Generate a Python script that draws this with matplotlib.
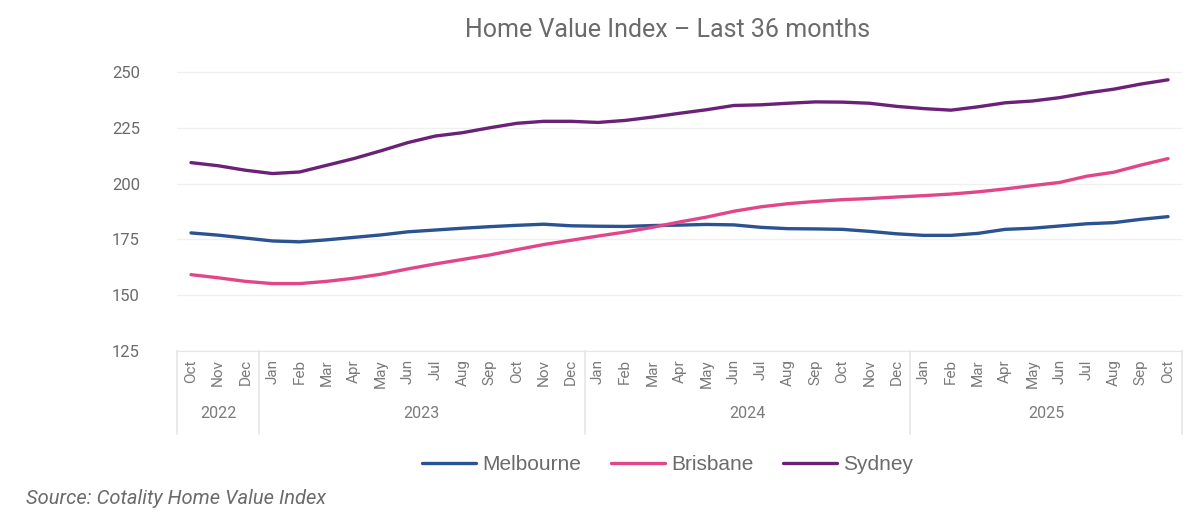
import matplotlib
matplotlib.use('Agg')
import matplotlib.pyplot as plt
import matplotlib.transforms as mtransforms

months = ['Oct', 'Nov', 'Dec',
          'Jan', 'Feb', 'Mar', 'Apr', 'May', 'Jun', 'Jul', 'Aug', 'Sep', 'Oct', 'Nov', 'Dec',
          'Jan', 'Feb', 'Mar', 'Apr', 'May', 'Jun', 'Jul', 'Aug', 'Sep', 'Oct', 'Nov', 'Dec',
          'Jan', 'Feb', 'Mar', 'Apr', 'May', 'Jun', 'Jul', 'Aug', 'Sep', 'Oct']
years = ['2022', '2023', '2024', '2025']
year_counts = [3, 12, 12, 10]

melbourne = [177.9, 176.9, 175.6, 174.3, 173.9, 174.8, 175.9, 177.0, 178.4, 179.2, 180.0, 180.7,
             181.3, 181.8, 181.1, 180.9, 180.8, 181.2, 181.4, 181.7, 181.5, 180.4, 179.8, 179.7,
             179.5, 178.6, 177.5, 176.8, 176.8, 177.7, 179.5, 180.0, 181.0, 182.0, 182.5, 184.0, 185.2]
brisbane = [159.2, 157.8, 156.2, 155.2, 155.2, 156.2, 157.6, 159.4, 161.8, 164.0, 166.0, 168.0,
            170.4, 172.7, 174.6, 176.5, 178.3, 180.4, 182.8, 185.0, 187.6, 189.6, 191.0, 192.0,
            192.8, 193.3, 194.0, 194.6, 195.3, 196.3, 197.6, 199.1, 200.5, 203.3, 205.1, 208.3, 211.2]
sydney = [209.4, 208.0, 206.0, 204.5, 205.2, 208.2, 211.2, 214.7, 218.4, 221.3, 222.8, 225.0,
          227.0, 227.9, 227.9, 227.4, 228.3, 229.8, 231.5, 233.1, 235.0, 235.3, 236.0, 236.6,
          236.5, 236.0, 234.6, 233.6, 232.9, 234.4, 236.2, 237.0, 238.5, 240.6, 242.3, 244.6, 246.5]

grey = '#6b6b6b'
light = '#e6e6e6'

fig = plt.figure(figsize=(11.86, 5.29), dpi=100)
ax = fig.add_axes([0.1496, 0.3365, 0.8467, 0.5485])

x = range(len(months))
ax.plot(x, melbourne, color='#2b5291', lw=2.4, label='Melbourne', solid_capstyle='round')
ax.plot(x, brisbane, color='#e2468a', lw=2.4, label='Brisbane', solid_capstyle='round')
ax.plot(x, sydney, color='#6b2178', lw=2.4, label='Sydney', solid_capstyle='round')

ax.set_xlim(-0.5, len(months) - 0.5)
ax.set_ylim(125, 255)
ax.set_yticks([125, 150, 175, 200, 225, 250])
ax.grid(axis='y', color='#f0f0f0', lw=1)
ax.set_axisbelow(True)
for s in ['top', 'right', 'left']:
    ax.spines[s].set_visible(False)
ax.spines['bottom'].set_color(light)
ax.tick_params(axis='y', length=0, pad=27, labelsize=12, labelcolor=grey)
ax.set_xticks(list(x))
ax.set_xticklabels(months, rotation=90, fontsize=11, color='#7a7a7a', family='Roboto')
ax.tick_params(axis='x', length=0, pad=6)
for lab in ax.get_yticklabels():
    lab.set_family('Roboto')

# year groups under the month labels
trans = mtransforms.blended_transform_factory(ax.transData, ax.transAxes)
bottom = -0.285
start = -0.5
ax.plot([start, start], [0, bottom], transform=trans, color=light, lw=1.2, clip_on=False)
for yr, n in zip(years, year_counts):
    end = start + n
    ax.plot([end, end], [0, bottom], transform=trans, color=light, lw=1.2, clip_on=False)
    ax.text((start + end) / 2, -0.215, yr, transform=trans, ha='center', va='center',
            fontsize=11.5, color='#7a7a7a', family='Roboto')
    start = end

fig.text(0.563, 0.943, 'Home Value Index \u2013 Last 36 months', ha='center', va='center',
         fontsize=18, color=grey, family='Roboto')

fig.legend(loc='center', bbox_to_anchor=(0.563, 0.122), ncol=3, frameon=False,
           prop={'family': 'Liberation Sans', 'size': 15}, labelcolor=grey,
           handlelength=2.6, handletextpad=0.3, columnspacing=1.4)

fig.text(0.022, 0.058, 'Source: Cotality Home Value Index', ha='left', va='center',
         fontsize=14.5, color=grey, style='italic', family='Roboto')

fig.savefig('out.png', dpi=100)
